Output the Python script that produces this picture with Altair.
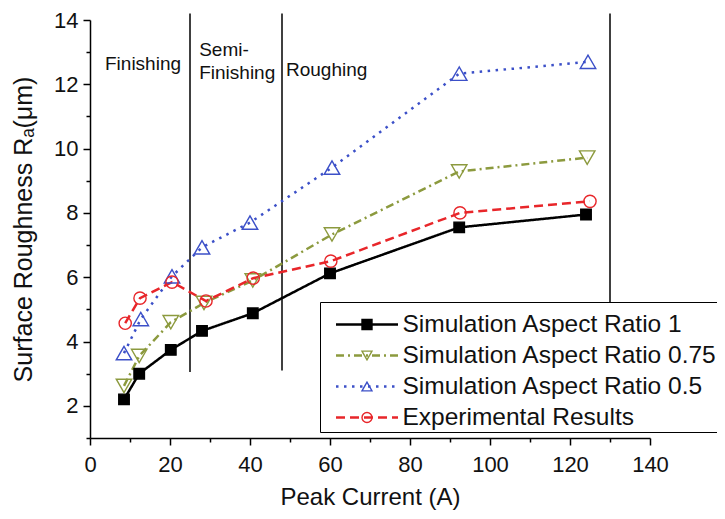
import altair as alt
import pandas as pd

series_names = ["Simulation Aspect Ratio 1", "Simulation Aspect Ratio 0.75",
                "Simulation Aspect Ratio 0.5", "Experimental Results"]
series_keys = ["S1", "S075", "S05", "EXP"]

x_s1 = [8.5, 12.3, 20.2, 28.0, 40.7, 60.0, 92.3, 124.0]
y_s1 = [2.2, 3.0, 3.74, 4.33, 4.88, 6.12, 7.55, 7.95]
x_s075 = [8.5, 12.3, 20.2, 28.5, 40.7, 60.5, 92.3, 124.3]
y_s075 = [2.62, 3.55, 4.6, 5.2, 5.9, 7.33, 9.29, 9.72]
x_s05 = [8.5, 12.7, 20.5, 28.0, 40.0, 60.5, 92.3, 124.5]
y_s05 = [3.64, 4.7, 6.03, 6.93, 7.7, 9.41, 12.33, 12.7]
x_exp = [8.8, 12.5, 20.5, 29.0, 40.8, 60.2, 92.5, 125.0]
y_exp = [4.57, 5.35, 5.85, 5.26, 5.97, 6.5, 8.0, 8.36]

# region dividers
div_x = [25, 48, 130]
div_top = [14.2, 14.2, 14.2]
div_bottom = [3.05, 3.1, 5.2]

# region labels
lab_text = ["Finishing", "Semi-", "Finishing", "Roughing"]
lab_x = [3.75, 27.3, 27.3, 49.0]
lab_y = [12.45, 12.88, 12.16, 12.27]

colors = ["#000000", "#8c9a3e", "#3c50c8", "#e8262a"]
dashes = [[1, 0], [8, 4, 2, 4], [2.5, 5.5], [9, 5]]
fills = ["#000000", "transparent", "transparent", "transparent"]
shapes = ["square", "triangle-down", "triangle-up", "circle"]

xs = [x_s1, x_s075, x_s05, x_exp]
ys = [y_s1, y_s075, y_s05, y_exp]
rows = []
for name, key, xv, yv in zip(series_names, series_keys, xs, ys):
    for a, b in zip(xv, yv):
        rows.append({"x": a, "y": b, "series": name, "key": key})
df = pd.DataFrame(rows)
div_df = pd.DataFrame({"x": div_x, "y": div_top, "y2": div_bottom})
lab_df = pd.DataFrame({"x": lab_x, "y": lab_y, "t": lab_text})

FONT = "Liberation Sans"

xscale = alt.Scale(domain=[0, 140], nice=False, zero=False)
yscale = alt.Scale(domain=[1, 14], nice=False, zero=False)

xaxis = alt.Axis(
    title="Peak Current (A)", values=list(range(0, 141, 10)),
    labelExpr="datum.value % 20 === 0 ? datum.label : ''",
    tickSize={"condition": {"test": "datum.value % 20 === 0", "value": 7}, "value": 4},
    grid=False, domainColor="black", tickColor="black", domainWidth=1.5, tickWidth=1.5,
    labelFont=FONT, labelFontSize=22, labelColor="#111", labelPadding=9, labelFlush=False,
    labelOverlap=False,
    titleFont=FONT, titleFontSize=24, titleFontWeight="normal", titleColor="#111", titlePadding=10,
)
yaxis = alt.Axis(
    title="Surface Roughness Rₐ(μm)", values=list(range(1, 15)),
    labelExpr="datum.value % 2 === 0 ? datum.label : ''",
    tickSize={"condition": {"test": "datum.value % 2 === 0", "value": 7}, "value": 4},
    grid=False, domainColor="black", tickColor="black", domainWidth=1.5, tickWidth=1.5,
    labelFont=FONT, labelFontSize=22, labelColor="#111", labelPadding=5, labelFlush=False,
    labelOverlap=False,
    titleFont=FONT, titleFontSize=25, titleFontWeight="normal", titleColor="#111", titlePadding=17,
)

base = alt.Chart(df)

# legend frame (white box with border)
box_legend = alt.Legend(
    title=None, orient="none", legendX=230, legendY=282,
    symbolType="stroke", symbolSize=160000, symbolStrokeWidth=0, symbolOpacity=0,
    clipHeight=20, labelExpr="''", labelFontSize=1, rowPadding=25, padding=10,
    strokeColor="black", fillColor="white", zindex=0,
)
# line samples + labels
line_legend = alt.Legend(
    title=None, orient="none", legendX=241.5, legendY=291.5,
    symbolType="stroke", symbolSize=3844, symbolStrokeWidth=2.5, clipHeight=26,
    labelFont=FONT, labelFontSize=24.5, labelColor="#111", labelLimit=500,
    rowPadding=5, padding=0, symbolOffset=3, labelOffset=3, zindex=1,
)
# markers over the line samples
marker_legend = alt.Legend(
    title=None, orient="none", legendX=241.5, legendY=294.5,
    symbolSize=100, symbolStrokeWidth=1.4, clipHeight=20,
    labelExpr="''", labelFontSize=1,
    rowPadding=11, padding=0, symbolOffset=29.5, labelOffset=0, zindex=2,
)

rules = alt.Chart(div_df).mark_rule(color="black", strokeWidth=1.5).encode(
    x=alt.X("x:Q", scale=xscale, axis=xaxis),
    y=alt.Y("y:Q", scale=yscale, axis=yaxis),
    y2="y2:Q",
    opacity=alt.Opacity("x:O", scale=alt.Scale(range=[1, 1]), legend=box_legend),
)

lines = base.mark_line(strokeWidth=2.5).encode(
    x=alt.X("x:Q", scale=xscale, axis=xaxis),
    y=alt.Y("y:Q", scale=yscale, axis=yaxis),
    color=alt.Color("series:N", scale=alt.Scale(domain=series_names, range=colors), legend=line_legend),
    strokeDash=alt.StrokeDash("series:N", scale=alt.Scale(domain=series_names, range=dashes), legend=line_legend),
    detail="key:N",
)

points = base.mark_point(filled=False, opacity=1, strokeWidth=1.4).encode(
    x=alt.X("x:Q", scale=xscale, axis=xaxis),
    y=alt.Y("y:Q", scale=yscale, axis=yaxis),
    stroke=alt.Stroke("key:N", scale=alt.Scale(domain=series_keys, range=colors), legend=marker_legend),
    fill=alt.Fill("key:N", scale=alt.Scale(domain=series_keys, range=fills), legend=marker_legend),
    shape=alt.Shape("key:N", scale=alt.Scale(domain=series_keys, range=shapes), legend=marker_legend),
    size=alt.when(alt.datum.key == "S1").then(alt.value(110))
         .when(alt.datum.key == "EXP").then(alt.value(150))
         .otherwise(alt.value(240)),
)

labels = alt.Chart(lab_df).mark_text(
    align="left", baseline="alphabetic", font=FONT, fontSize=19, color="#111"
).encode(
    x=alt.X("x:Q", scale=xscale, axis=xaxis),
    y=alt.Y("y:Q", scale=yscale, axis=yaxis),
    text="t:N",
)

chart = alt.layer(rules, lines, points, labels).properties(
    width=560, height=418,
    autosize=alt.AutoSizeParams(type="none"),
    padding={"left": 82, "top": 12, "right": 67, "bottom": 72},
    background="white",
).configure_view(stroke=None)

chart.save("out.html", embed_options={"renderer": "svg", "actions": False})
